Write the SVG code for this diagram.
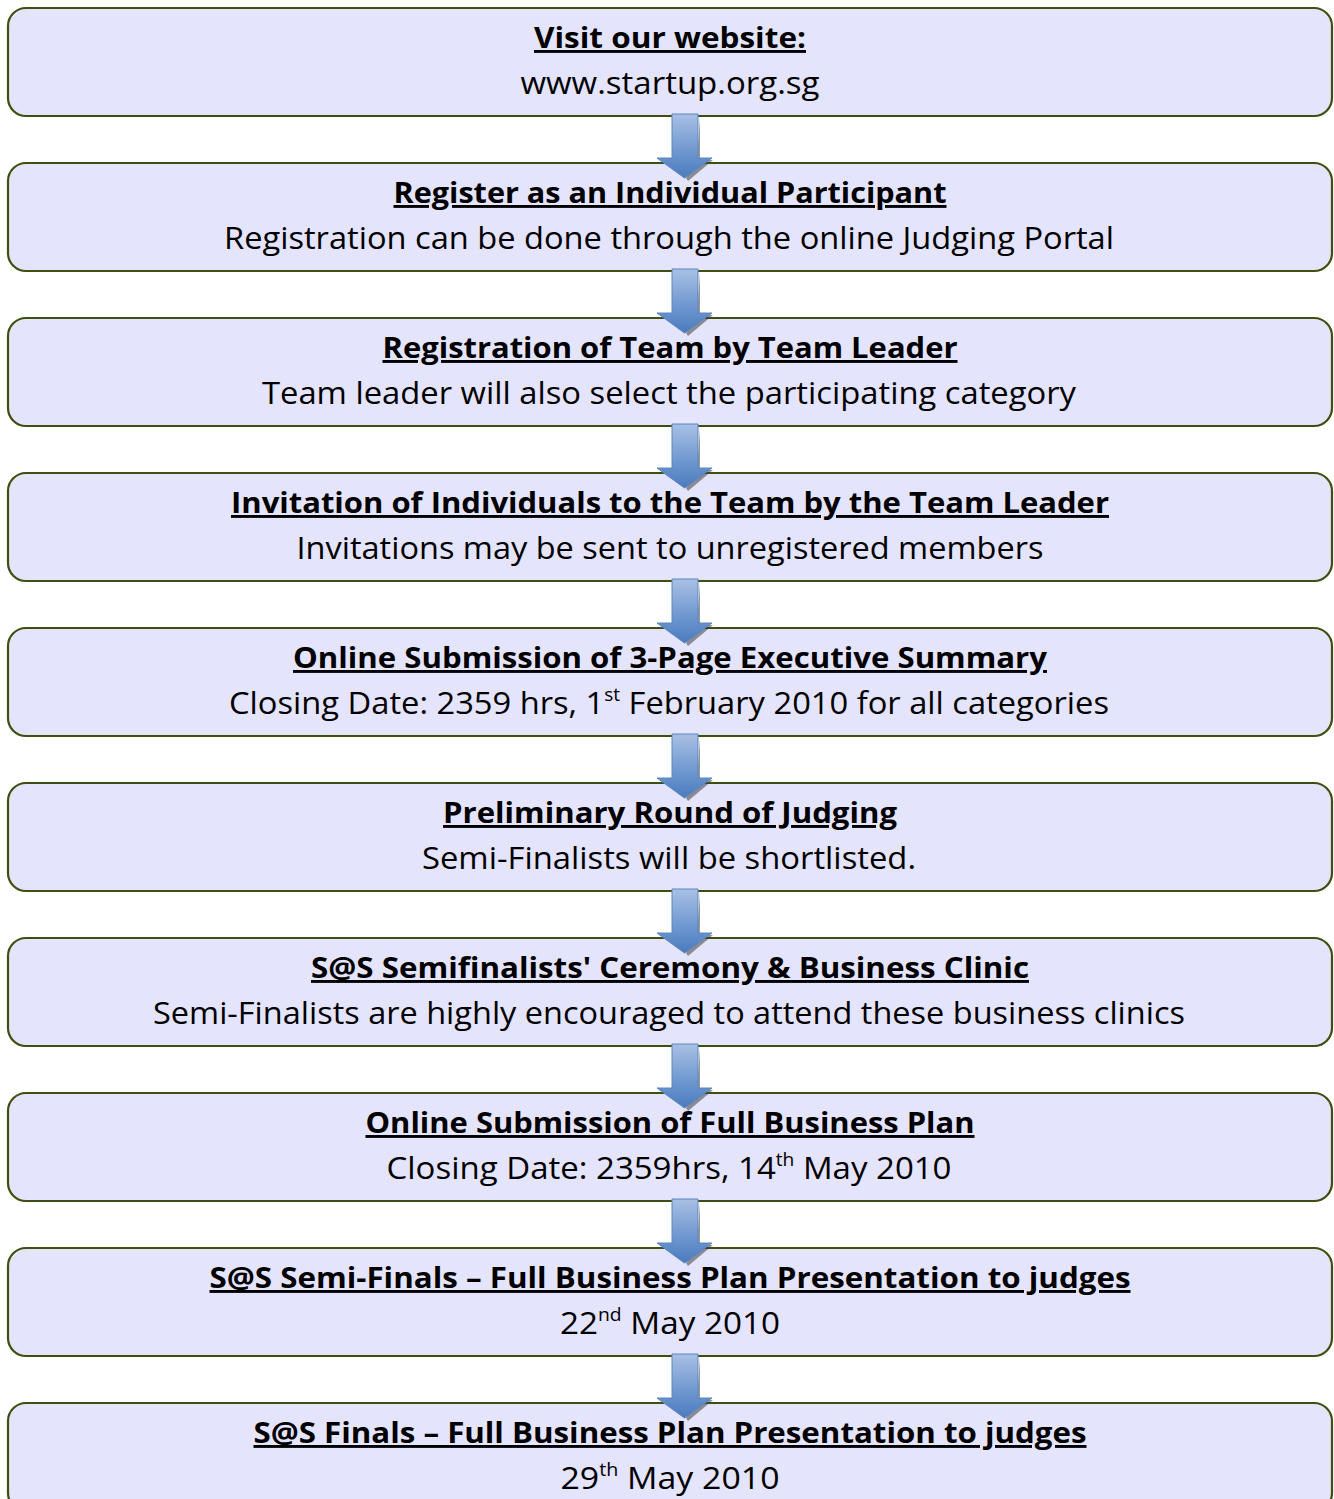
<svg xmlns="http://www.w3.org/2000/svg" width="1334" height="1499" viewBox="0 0 1334 1499">
<style>
.box{fill:#E4E4FC;stroke:#3F4F10;stroke-width:2.2}
.t{font-family:"Open Sans","DejaVu Sans",sans-serif;font-size:29px;font-weight:bold;fill:#000;text-anchor:middle;text-decoration:underline}
.b{font-family:"Open Sans","DejaVu Sans",sans-serif;font-size:31px;fill:#000;text-anchor:middle}
.sup{font-size:18px}
.arr{fill:url(#ag);stroke:#5A86C0;stroke-width:1}
.sh{fill:#404040;opacity:0.55}
</style>
<defs>
<linearGradient id="ag" x1="0" y1="0" x2="0" y2="1">
<stop offset="0" stop-color="#A9C0E4"/>
<stop offset="0.6" stop-color="#6D96CF"/>
<stop offset="1" stop-color="#4A7BBE"/>
</linearGradient>
<g id="arrow">
<path class="sh" d="M700 4 L700 46 L713 46 L688 67 L686 64 L697 46 Z"/>
<path class="arr" d="M672 0 L698 0 L698 44 L712 44 L684.5 64 L657 44 L672 44 Z"/>
</g>
</defs>
<g id="nodes">
<g id="n1"><rect class="box" x="8" y="8" width="1324" height="108" rx="18"/><text class="t" x="670" y="48" textLength="272" lengthAdjust="spacingAndGlyphs">Visit our website:</text><text class="b" x="670" y="94" textLength="299" lengthAdjust="spacingAndGlyphs">www.startup.org.sg</text></g>
<g id="n2"><rect class="box" x="8" y="163" width="1324" height="108" rx="18"/><text class="t" x="670" y="203" textLength="553" lengthAdjust="spacingAndGlyphs">Register as an Individual Participant</text><text class="b" x="669" y="249" textLength="890" lengthAdjust="spacingAndGlyphs">Registration can be done through the online Judging Portal</text></g>
<g id="n3"><rect class="box" x="8" y="318" width="1324" height="108" rx="18"/><text class="t" x="670" y="358" textLength="575" lengthAdjust="spacingAndGlyphs">Registration of Team by Team Leader</text><text class="b" x="669" y="404" textLength="814" lengthAdjust="spacingAndGlyphs">Team leader will also select the participating category</text></g>
<g id="n4"><rect class="box" x="8" y="473" width="1324" height="108" rx="18"/><text class="t" x="670" y="513" textLength="878" lengthAdjust="spacingAndGlyphs">Invitation of Individuals to the Team by the Team Leader</text><text class="b" x="670" y="559" textLength="747" lengthAdjust="spacingAndGlyphs">Invitations may be sent to unregistered members</text></g>
<g id="n5"><rect class="box" x="8" y="628" width="1324" height="108" rx="18"/><text class="t" x="670" y="668" textLength="754" lengthAdjust="spacingAndGlyphs">Online Submission of 3-Page Executive Summary</text><text class="b" x="669" y="714" textLength="880" lengthAdjust="spacingAndGlyphs">Closing Date: 2359 hrs, 1<tspan class="sup" dy="-13">st</tspan><tspan dy="13"> February 2010 for all categories</tspan></text></g>
<g id="n6"><rect class="box" x="8" y="783" width="1324" height="108" rx="18"/><text class="t" x="670" y="823" textLength="454" lengthAdjust="spacingAndGlyphs">Preliminary Round of Judging</text><text class="b" x="669" y="869" textLength="494" lengthAdjust="spacingAndGlyphs">Semi-Finalists will be shortlisted.</text></g>
<g id="n7"><rect class="box" x="8" y="938" width="1324" height="108" rx="18"/><text class="t" x="670" y="978" textLength="718" lengthAdjust="spacingAndGlyphs">S@S Semifinalists' Ceremony &amp; Business Clinic</text><text class="b" x="669" y="1024" textLength="1032" lengthAdjust="spacingAndGlyphs">Semi-Finalists are highly encouraged to attend these business clinics</text></g>
<g id="n8"><rect class="box" x="8" y="1093" width="1324" height="108" rx="18"/><text class="t" x="670" y="1133" textLength="609" lengthAdjust="spacingAndGlyphs">Online Submission of Full Business Plan</text><text class="b" x="669" y="1179" textLength="565" lengthAdjust="spacingAndGlyphs">Closing Date: 2359hrs, 14<tspan class="sup" dy="-13">th</tspan><tspan dy="13"> May 2010</tspan></text></g>
<g id="n9"><rect class="box" x="8" y="1248" width="1324" height="108" rx="18"/><text class="t" x="670" y="1288" textLength="921" lengthAdjust="spacingAndGlyphs">S@S Semi-Finals – Full Business Plan Presentation to judges</text><text class="b" x="670" y="1334" textLength="220" lengthAdjust="spacingAndGlyphs">22<tspan class="sup" dy="-13">nd</tspan><tspan dy="13"> May 2010</tspan></text></g>
<g id="n10"><rect class="box" x="8" y="1403" width="1324" height="108" rx="18"/><text class="t" x="670" y="1443" textLength="833" lengthAdjust="spacingAndGlyphs">S@S Finals – Full Business Plan Presentation to judges</text><text class="b" x="670" y="1489" textLength="219" lengthAdjust="spacingAndGlyphs">29<tspan class="sup" dy="-13">th</tspan><tspan dy="13"> May 2010</tspan></text></g>
</g>
<g id="connectors">
<use href="#arrow" y="114"/>
<use href="#arrow" y="269"/>
<use href="#arrow" y="424"/>
<use href="#arrow" y="579"/>
<use href="#arrow" y="734"/>
<use href="#arrow" y="889"/>
<use href="#arrow" y="1044"/>
<use href="#arrow" y="1199"/>
<use href="#arrow" y="1354"/>
</g>
</svg>
